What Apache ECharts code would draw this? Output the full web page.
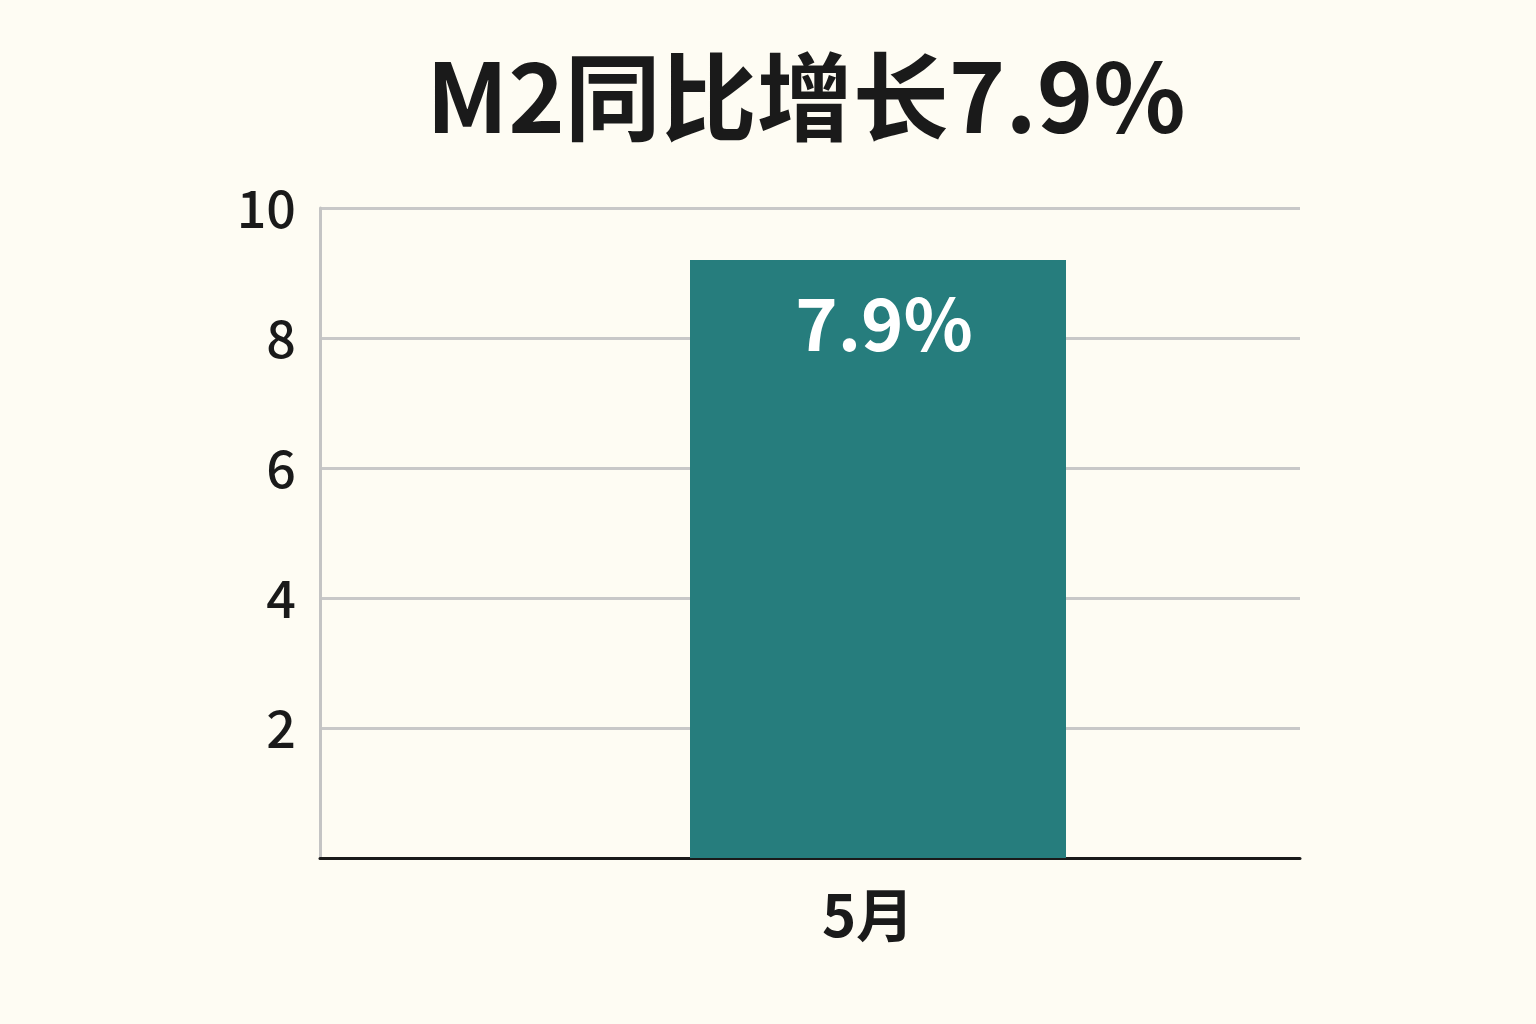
<!DOCTYPE html>
<html>
<head>
<meta charset="utf-8">
<script src="https://cdn.jsdelivr.net/npm/echarts@6/dist/echarts.min.js"></script>
<style>
  html, body { margin: 0; padding: 0; background: #fefcf3; }
  #chart { width: 1536px; height: 1024px; }
</style>
</head>
<body>
<div id="chart"></div>
<script>
  var titleText = "M2同比增长7.9%";
  var categories = ["5月"];
  var values = [9.2];
  var barLabels = ["7.9%"];
  var yTicks = [0, 2, 4, 6, 8, 10];

  var font = "'Noto Sans CJK SC', 'Noto Sans', sans-serif";
  var chart = echarts.init(document.getElementById("chart"));

  var option = {
    backgroundColor: "#fefcf3",
    title: {
      text: titleText,
      top: 44,
      left: 801,
      textAlign: "center",
      textStyle: { fontFamily: font, fontSize: 96, fontWeight: "bold", color: "#1a1a1a" }
    },
    grid: [
      // 网格线与纵轴
      { left: 320, right: 236, top: 208, bottom: 166 },
      // 柱子所在区域
      { left: 690, right: 470, top: 208, bottom: 166 }
    ],
    xAxis: [
      {
        type: "category",
        gridIndex: 0,
        data: [""],
        axisLine: { lineStyle: { color: "#1a1a1a", width: 3 } },
        axisTick: { show: false },
        axisLabel: { show: false }
      },
      {
        type: "category",
        gridIndex: 1,
        data: categories,
        axisLine: { show: false },
        axisTick: { show: false },
        axisLabel: {
          margin: 28,
          padding: [0, 20, 0, 0],
          fontFamily: font,
          fontSize: 58,
          fontWeight: "bold",
          color: "#1a1a1a"
        }
      }
    ],
    yAxis: [
      {
        type: "value",
        gridIndex: 0,
        min: yTicks[0],
        max: yTicks[yTicks.length - 1],
        interval: 2,
        axisLine: { show: true, lineStyle: { color: "#c4c4c4", width: 3 } },
        axisTick: { show: false },
        splitLine: { lineStyle: { color: "#c8c8c8", width: 3 } },
        axisLabel: {
          margin: 24,
          fontFamily: font,
          fontSize: 52,
          fontWeight: 500,
          color: "#1a1a1a",
          formatter: function(v) {
            return v === 0 ? "" : String(v);
          }
        }
      },
      {
        type: "value",
        gridIndex: 1,
        min: yTicks[0],
        max: yTicks[yTicks.length - 1],
        show: false
      }
    ],
    series: [
      {
        type: "bar",
        xAxisIndex: 1,
        yAxisIndex: 1,
        data: values,
        barWidth: "100%",
        itemStyle: { color: "#267d7d" },
        label: {
          show: true,
          position: "insideTop",
          distance: 28,
          offset: [6, 0],
          formatter: function(p) {
            return barLabels[p.dataIndex];
          },
          fontFamily: font,
          fontSize: 72,
          fontWeight: "bold",
          color: "#ffffff"
        }
      }
    ]
  };

  chart.setOption(option);
</script>
</body>
</html>
